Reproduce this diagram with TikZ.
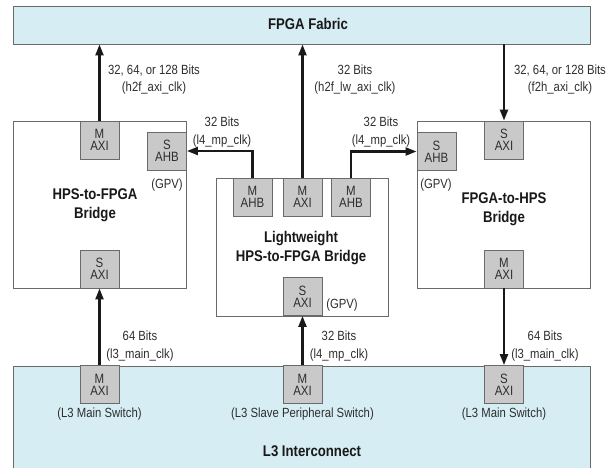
\documentclass[tikz,border=0pt]{standalone}
\usepackage{fontspec}
\setmainfont{Liberation Sans}[FakeStretch=0.85]
\usetikzlibrary{arrows.meta}
\definecolor{fabric}{HTML}{D6EDF3}
\definecolor{portfill}{HTML}{C9C9C9}
\definecolor{edge}{HTML}{6A6A6A}
\definecolor{txt}{HTML}{2E2E2E}
\tikzset{
  bigbox/.style={draw=edge, line width=0.9pt, inner sep=0pt},
  port/.style={draw=edge, fill=portfill, line width=0.9pt, minimum width=39pt, minimum height=38pt,
    inner sep=0pt, align=center, text=txt, font=\fontsize{13.5}{12}\selectfont},
  lbl/.style={align=center, text=txt, inner sep=0pt, font=\fontsize{13.3}{17.5}\selectfont},
  title/.style={align=center, text=black!90, inner sep=0pt, font=\fontsize{15.5}{19}\selectfont\bfseries},
  arr/.style={line width=2.2pt, black!90, -{Triangle[length=11pt,width=8pt]}}
}
\begin{document}
\begin{tikzpicture}[x=1pt,y=-1pt]
\clip (0,0) rectangle (606,467);
\fill[white] (0,0) rectangle (606,467);
% big boxes
\node[bigbox, fill=fabric, minimum width=577pt, minimum height=38pt] (fpga) at (301.5,25) {};
\node[bigbox, fill=fabric, minimum width=577pt, minimum height=120pt] (l3) at (301.5,426) {};
\node[bigbox, fill=white, minimum width=173pt, minimum height=167pt] (h2f) at (99.5,204.5) {};
\node[bigbox, fill=white, minimum width=172pt, minimum height=138pt] (lw) at (302,247) {};
\node[bigbox, fill=white, minimum width=173pt, minimum height=167pt] (f2h) at (503.5,204.5) {};
% titles
\node[title] (tfpga) at (308,24) {FPGA Fabric};
\node[title] (tl3) at (312,451) {L3 Interconnect};
\node[title] (th2f) at (95,205.5) {HPS-to-FPGA\\Bridge};
\node[title] (tlw) at (301,248) {Lightweight\\HPS-to-FPGA Bridge};
\node[title] (tf2h) at (504,209) {FPGA-to-HPS\\Bridge};
% ports
\node[port] (h2fM) at (99.5,140) {M\\AXI};
\node[port] (h2fSahb) at (167,151) {S\\AHB};
\node[port] (h2fS) at (99.5,269) {S\\AXI};
\node[port] (lwMahbA) at (252.5,197) {M\\AHB};
\node[port] (lwMaxi) at (302.5,197) {M\\AXI};
\node[port] (lwMahbB) at (351,197) {M\\AHB};
\node[port] (lwS) at (302.5,296.5) {S\\AXI};
\node[port] (f2hSahb) at (436.5,151.5) {S\\AHB};
\node[port] (f2hS) at (504,140) {S\\AXI};
\node[port] (f2hM) at (504,269) {M\\AXI};
\node[port] (l3MA) at (99.5,384.5) {M\\AXI};
\node[port] (l3MB) at (302.5,384.5) {M\\AXI};
\node[port] (l3S) at (504,384.5) {S\\AXI};
% arrows
\draw[arr] (h2fM.north) -- (h2fM.north |- fpga.south);
\draw[arr] (lwMaxi.north) -- (lwMaxi.north |- fpga.south);
\draw[arr] (f2hS.north |- fpga.south) -- (f2hS.north);
\draw[arr] (lwMahbA.north) |- (h2fSahb.east);
\draw[arr] (lwMahbB.north) |- (f2hSahb.west);
\draw[arr] (l3MA.north) -- (h2fS.south);
\draw[arr] (l3MB.north) -- (lwS.south);
\draw[arr] (f2hM.south) -- (l3S.north);
% labels
\node[lbl] (b1) at (154,79.5) {32, 64, or 128 Bits\\(h2f\_axi\_clk)};
\node[lbl] (b2) at (355,79.5) {32 Bits\\(h2f\_lw\_axi\_clk)};
\node[lbl] (b3) at (560,79.5) {32, 64, or 128 Bits\\(f2h\_axi\_clk)};
\node[lbl] (b4) at (222,132) {32 Bits\\(l4\_mp\_clk)};
\node[lbl] (b5) at (381,132) {32 Bits\\(l4\_mp\_clk)};
\node[lbl] (b6) at (140,346) {64 Bits\\(l3\_main\_clk)};
\node[lbl] (b7) at (339,346) {32 Bits\\(l4\_mp\_clk)};
\node[lbl] (b8) at (545,346) {64 Bits\\(l3\_main\_clk)};
\node[lbl] (g1) at (167,185) {(GPV)};
\node[lbl] (g2) at (436,185) {(GPV)};
\node[lbl] (g3) at (342,305) {(GPV)};
\node[lbl] (s1) at (99.5,414) {(L3 Main Switch)};
\node[lbl] (s2) at (302.5,414) {(L3 Slave Peripheral Switch)};
\node[lbl] (s3) at (504,414) {(L3 Main Switch)};
\end{tikzpicture}
\end{document}
